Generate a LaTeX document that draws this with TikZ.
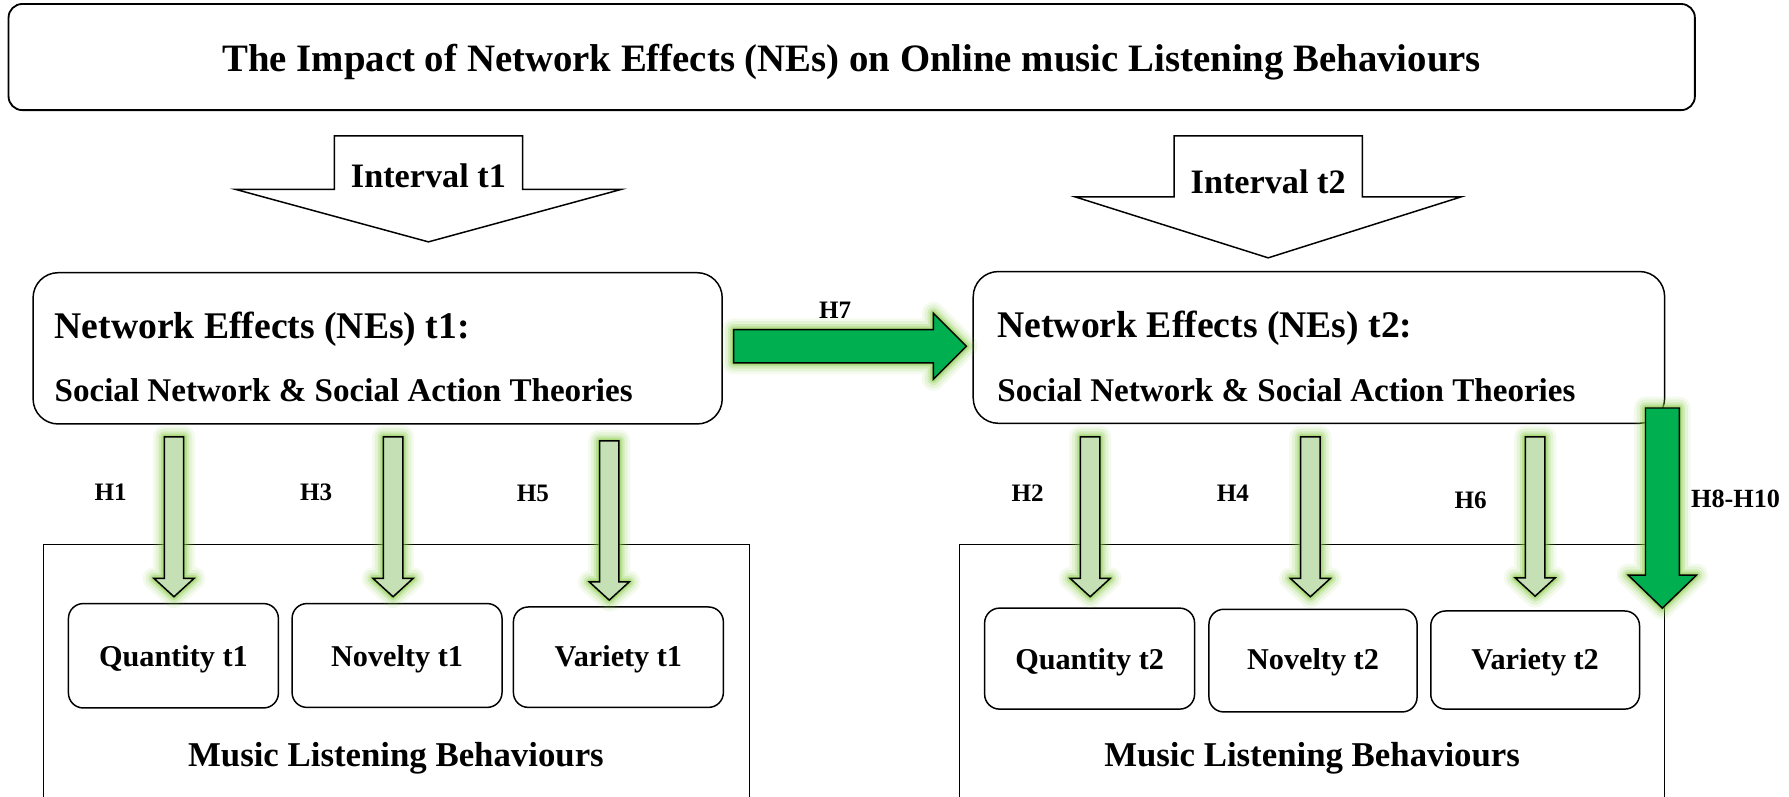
\documentclass[tikz,border=0pt]{standalone}
\usepackage{fontspec}
\setmainfont{Liberation Serif}
\usetikzlibrary{calc}

\definecolor{arrowgreen}{RGB}{0,176,80}
\definecolor{palegreen}{RGB}{197,224,180}
\definecolor{glowgreen}{RGB}{130,200,60}

\newcommand\fsz[1]{\fontsize{#1}{#1}\selectfont\bfseries}

% block arrow pointing down: style, top centre, tip, half shaft, half head, head length
\newcommand\downblock[6]{%
  \path[#1] ($(#2)+(-#4,0)$) -- ($(#2)+(#4,0)$) -- ($(#3)+(#4,-#6)$)
    -- ($(#3)+(#5,-#6)$) -- (#3) -- ($(#3)+(-#5,-#6)$) -- ($(#3)+(-#4,-#6)$) -- cycle;}
% block arrow pointing right: style, tail centre, tip, half shaft, half head, head length
\newcommand\rightblock[6]{%
  \path[#1] ($(#2)+(0,-#4)$) -- ($(#3)+(-#6,-#4)$) -- ($(#3)+(-#6,-#5)$)
    -- (#3) -- ($(#3)+(-#6,#5)$) -- ($(#3)+(-#6,#4)$) -- ($(#2)+(0,#4)$) -- cycle;}
% soft green halo behind an arrow
\newcommand\glowdown[5]{%
  \foreach \gw/\go in {20/0.09,15/0.13,10/0.2,6/0.3,3/0.4}{%
    \downblock{draw=glowgreen,line width=\gw pt,draw opacity=\go,line join=round}{#1}{#2}{#3}{#4}{#5}}}
\newcommand\glowright[5]{%
  \foreach \gw/\go in {20/0.09,15/0.13,10/0.2,6/0.3,3/0.4}{%
    \rightblock{draw=glowgreen,line width=\gw pt,draw opacity=\go,line join=round}{#1}{#2}{#3}{#4}{#5}}}

\tikzset{
  box/.style={draw, line width=1.3pt, fill=white, inner sep=0pt, text depth=0pt},
  frame/.style={draw, line width=1.1pt, inner sep=0pt},
  outline/.style={draw, line width=1.3pt, line join=miter},
  smallarrow/.style={outline, fill=palegreen},
  bigarrow/.style={outline, fill=arrowgreen},
  hyp/.style={font=\fsz{22}, anchor=base, inner sep=0pt},
  linetext/.style={anchor=base west, inner sep=0pt},
  behav/.style={box, rounded corners=13pt, minimum width=184pt, font=\fsz{26.5}},
}

\begin{document}
\begin{tikzpicture}[x=1pt, y=-1pt]
\clip (0,0) rectangle (1568,698);

% heading
\node[box, rounded corners=12pt, line width=1.6pt, minimum width=1478pt,
      minimum height=93pt, text height=26pt, font=\fsz{34}] (title) at (746.5,50)
  {The Impact of Network Effects (NEs) on Online music Listening Behaviours};

% interval arrows
\coordinate (i1top) at (375.5,119);
\coordinate (i1tip) at (375.5,212);
\coordinate (i2top) at (1111.5,119);
\coordinate (i2tip) at (1111.5,226);
\downblock{outline, fill=white}{i1top}{i1tip}{82.5}{169}{46}
\downblock{outline, fill=white}{i2top}{i2tip}{82.5}{169}{53.4}
\node[font=\fsz{30}, anchor=base, inner sep=0pt] (int1) at (375.5,164) {Interval t1};
\node[font=\fsz{30}, anchor=base, inner sep=0pt] (int2) at (1111.5,170) {Interval t2};

% behaviour frames (open at the bottom edge)
\node[frame, minimum width=619pt, minimum height=243pt] (mlb1) at (347.5,598.5) {};
\node[frame, minimum width=618pt, minimum height=243pt] (mlb2) at (1150,598.5) {};
\node[font=\fsz{30.5}, anchor=base, inner sep=0pt] (mlb1t) at (347,672) {Music Listening Behaviours};
\node[font=\fsz{30.5}, anchor=base, inner sep=0pt] (mlb2t) at (1150,672) {Music Listening Behaviours};

% network effects boxes
\node[box, rounded corners=22pt, minimum width=604pt, minimum height=132.6pt] (ne1) at (331,305.3) {};
\node[box, rounded corners=22pt, minimum width=606pt, minimum height=133pt] (ne2) at (1156,304.5) {};
\node[linetext, font=\fsz{33}] (ne1a) at (47.7,297) {Network Effects (NEs) t1:};
\node[linetext, font=\fsz{29}] (ne1b) at (47.7,352) {Social Network \& Social Action Theories};
\node[linetext, font=\fsz{33}] (ne2a) at (874,296) {Network Effects (NEs) t2:};
\node[linetext, font=\fsz{29}] (ne2b) at (874,352) {Social Network \& Social Action Theories};

% behaviour boxes
\node[behav, minimum height=91.5pt, text height=18.5pt] (q1) at (152,574.75) {Quantity t1};
\node[behav, minimum height=91pt, text height=19pt] (n1) at (348,574.5) {Novelty t1};
\node[behav, minimum height=88pt, text height=16pt] (v1) at (542,576) {Variety t1};
\node[behav, minimum height=88.5pt, text height=19.5pt] (q2) at (955,577.25) {Quantity t2};
\node[behav, minimum width=182.4pt, minimum height=90pt, text height=16pt] (n2) at (1150.8,579) {Novelty t2};
\node[behav, minimum width=183pt, minimum height=86pt, text height=17pt] (v2) at (1345.5,578.5) {Variety t2};

% hypothesis arrow end points
\coordinate (h1a) at (152.5,383);  \coordinate (h1b) at (152.5,523);
\coordinate (h3a) at (344.5,383);  \coordinate (h3b) at (344.5,523);
\coordinate (h5a) at (534,386.5);  \coordinate (h5b) at (534,526);
\coordinate (h2a) at (955.5,383);  \coordinate (h2b) at (955.5,523);
\coordinate (h4a) at (1148.5,383); \coordinate (h4b) at (1148.5,523);
\coordinate (h6a) at (1345.5,383); \coordinate (h6b) at (1345.5,522.5);
\coordinate (h7a) at (643,303.5);  \coordinate (h7b) at (847,303.5);
\coordinate (h8a) at (1457,357.6); \coordinate (h8b) at (1457,533);

% hypothesis arrows with halo
\foreach \p in {h1,h3,h5,h2,h4,h6}{%
  \glowdown{\p a}{\p b}{8.5}{17.5}{16}
  \downblock{smallarrow}{\p a}{\p b}{8.5}{17.5}{16}}
\glowright{h7a}{h7b}{14.5}{29}{29}
\rightblock{bigarrow}{h7a}{h7b}{14.5}{29}{29}
\glowdown{h8a}{h8b}{14.8}{30}{29}
\downblock{bigarrow}{h8a}{h8b}{14.8}{30}{29}

% hypothesis labels
\node[hyp] (l1) at (97,439) {H1};
\node[hyp] (l3) at (277,439) {H3};
\node[hyp] (l5) at (467,439.7) {H5};
\node[hyp] (l2) at (900.6,439.7) {H2};
\node[hyp] (l4) at (1080.6,439.7) {H4};
\node[hyp] (l6) at (1289,446) {H6};
\node[hyp] (l7) at (732,279) {H7};
\node[hyp, anchor=base west, font=\fsz{23}] (l8) at (1482,445) {H8-H10};
\end{tikzpicture}
\end{document}
